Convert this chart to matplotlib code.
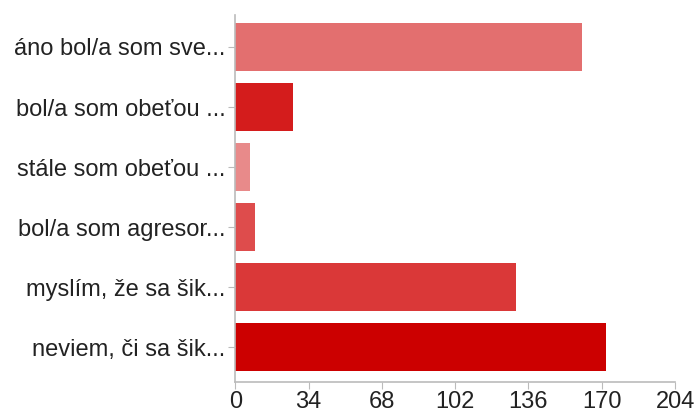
import matplotlib.pyplot as plt

# Answer labels (truncated, as shown in the chart) and counts
labels = [
    "áno bol/a som sve...",
    "bol/a som obeťou ...",
    "stále som obeťou ...",
    "bol/a som agresor...",
    "myslím, že sa šik...",
    "neviem, či sa šik...",
]
counts = [161, 27, 7, 9, 130, 172]
colors = ["#e36f6f", "#d41c1c", "#e88a8a", "#de4c4c", "#da3838", "#cc0000"]
x_ticks = [0, 34, 68, 102, 136, 170, 204]

plt.rcParams["font.family"] = ["Liberation Sans", "DejaVu Sans"]

fig = plt.figure(figsize=(6.96, 4.12), dpi=100)
ax = fig.add_axes([0.338, 0.0735, 0.632, 0.89])

pos = list(range(len(labels)))
ax.barh(pos, counts, height=0.8, color=colors)

ax.set_ylim(5.57, -0.53)
ax.set_xlim(0, 204)
ax.set_xticks(x_ticks)
ax.set_yticks(pos)
ax.set_yticklabels(labels)

for side in ("top", "right"):
    ax.spines[side].set_visible(False)
for side in ("left", "bottom"):
    ax.spines[side].set_color("#bbbbbb")
    ax.spines[side].set_linewidth(1.2)

ax.tick_params(axis="y", length=5, color="#bbbbbb", labelsize=17,
               labelcolor="#222222", pad=2)
ax.tick_params(axis="x", length=5, color="#bbbbbb", labelsize=17,
               labelcolor="#222222", pad=2)

fig.savefig("out.png", dpi=100)
